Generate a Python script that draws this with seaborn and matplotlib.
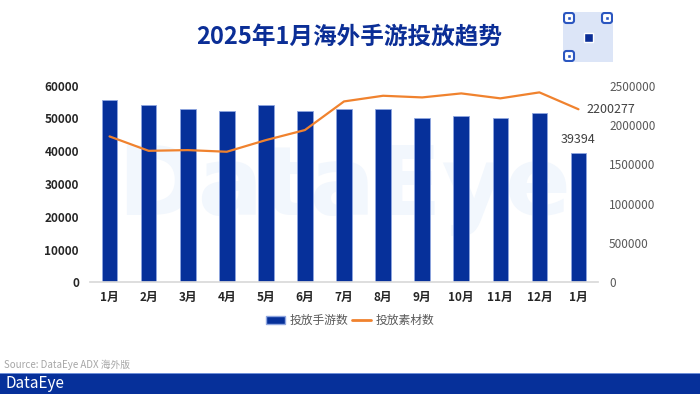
import numpy as np
import pandas as pd
import matplotlib.pyplot as plt
import matplotlib.patches as mpatches
from matplotlib.lines import Line2D
from matplotlib.ticker import FuncFormatter
import seaborn as sns

# data
months = ["1月", "2月", "3月", "4月", "5月", "6月", "7月", "8月", "9月", "10月", "11月", "12月", "1月"]
games = [55700, 54100, 52900, 52300, 54100, 52200, 52800, 52900, 50000, 50800, 50100, 51600, 39394]
creatives = [1855000, 1672000, 1681000, 1660000, 1808000, 1936000, 2300000, 2372000,
             2351000, 2402000, 2339000, 2415000, 2200277]

BLUE = "#06309A"
ORANGE = "#F0822E"

sns.set_theme(style="white")
plt.rcParams["font.family"] = ["Noto Sans CJK SC", "DejaVu Sans"]

df = pd.DataFrame({"pos": [str(i) for i in range(len(months))],
                   "x": np.arange(len(months)), "games": games, "creatives": creatives})

fig = plt.figure(figsize=(7, 3.94), dpi=100)
ax = fig.add_axes([0.1286, 0.2835, 0.7257, 0.499])

# faint watermark behind the bars
ax.text(0.5, 0.47, "DataEye", transform=ax.transAxes, fontsize=70, color="#F2F7FD",
        ha="center", va="center", fontweight="bold", fontfamily="DejaVu Sans", zorder=0,
        clip_on=True)

sns.barplot(data=df, x="pos", y="games", color=BLUE, width=0.4, saturation=1,
            edgecolor="#8FA6E0", linewidth=0.6, ax=ax, zorder=2)
ax.set_ylim(0, 60000)
ax.set_yticks(np.arange(0, 60001, 10000))
ax.set_xticks(range(len(months)))
ax.set_xticklabels(months)
ax.set_xlabel("")
ax.set_ylabel("")
for s in ["top", "right", "left"]:
    ax.spines[s].set_visible(False)
ax.spines["bottom"].set_color("#D9D9D9")
ax.tick_params(axis="x", length=0, pad=6, labelsize=8.5, labelcolor="#262626")
ax.tick_params(axis="y", length=0, pad=8, labelsize=8.5, labelcolor="#262626")
for lab in ax.get_xticklabels() + ax.get_yticklabels():
    lab.set_fontweight("bold")
# small separator ticks between categories
ax.set_xticks(np.arange(-0.5, len(months), 1), minor=True)
ax.tick_params(axis="x", which="minor", length=4, color="#D9D9D9", width=0.8)

ax2 = ax.twinx()
sns.lineplot(data=df, x="x", y="creatives", color=ORANGE, linewidth=1.6, ax=ax2)
ax2.set_ylim(0, 2500000)
ax2.set_yticks(np.arange(0, 2500001, 500000))
ax2.yaxis.set_major_formatter(FuncFormatter(lambda v, p: f"{int(v)}"))
ax2.set_xlim(-0.5, len(months) - 0.5)
ax2.set_ylabel("")
ax2.set_xlabel("")
for s in ["top", "right", "left", "bottom"]:
    ax2.spines[s].set_visible(False)
ax2.tick_params(axis="y", length=0, pad=8, labelsize=8.5, labelcolor="#595959")

# labels on the last month
ax.text(12, games[-1] + 2300, f"{games[-1]}", ha="center", va="bottom", fontsize=9, color="#404040")
ax2.text(12.2, creatives[-1], f"{creatives[-1]}", ha="left", va="center", fontsize=9, color="#404040")

# legend
handles = [mpatches.Patch(facecolor=BLUE, edgecolor="#8FA6E0", label="投放手游数"),
           Line2D([0], [0], color=ORANGE, linewidth=2, label="投放素材数")]
fig.legend(handles=handles, loc="center", bbox_to_anchor=(0.5, 0.187), ncol=2, frameon=False,
           fontsize=8.5, labelcolor="#595959", handlelength=1.6, handletextpad=0.4, columnspacing=0.3)

# title
fig.text(0.499, 0.905, "2025年1月海外手游投放趋势", ha="center", va="center", fontsize=17,
         fontweight="bold", color="#0B2E96")

# qr-code style badge in the corner
qr = fig.add_axes([563 / 700, 1 - 62 / 394, 50 / 700, 50 / 394])
qr.set_xlim(0, 10)
qr.set_ylim(0, 10)
qr.axis("off")
qr.add_patch(mpatches.Rectangle((0, 0), 10, 10, facecolor="#DCE5F7", edgecolor="none"))
for cx, cy in [(0, 7.6), (7.6, 7.6), (0, 0)]:
    qr.add_patch(mpatches.FancyBboxPatch((cx + 0.2, cy + 0.2), 2.0, 2.0, boxstyle="round,pad=0,rounding_size=0.5",
                                         facecolor="white", edgecolor="#2B56C0", linewidth=1.5))
    qr.add_patch(mpatches.Rectangle((cx + 0.8, cy + 0.8), 0.8, 0.8, facecolor="#2B56C0"))
qr.add_patch(mpatches.Rectangle((4.1, 4.1), 1.8, 1.8, facecolor="#0B2E96"))

# source line and footer
fig.text(0.006, 0.073, "Source: DataEye ADX 海外版", fontsize=7, color="#A6A6A6", ha="left", va="center")
fig.patches.append(mpatches.Rectangle((0, 0), 1, 20 / 394, transform=fig.transFigure,
                                      facecolor="#06309A", edgecolor="none", zorder=1))
fig.patches.append(mpatches.Rectangle((0, 20 / 394), 1, 1.5 / 394, transform=fig.transFigure,
                                      facecolor="#6F8FD8", edgecolor="none", zorder=1))
fig.text(0.008, 0.026, "DataEye", fontsize=11, color="white", ha="left", va="center", zorder=2)

fig.savefig("out.png", dpi=100)
